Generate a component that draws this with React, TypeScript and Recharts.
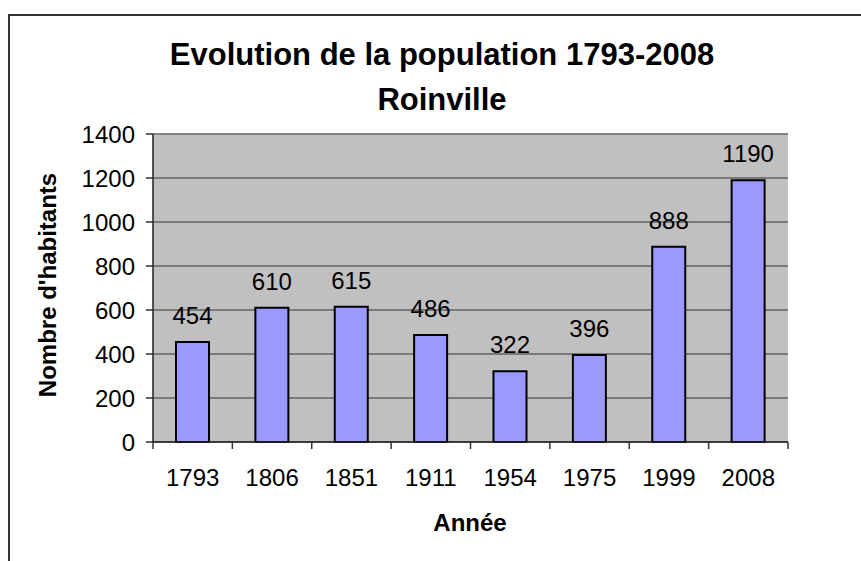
import { BarChart, Bar, XAxis, YAxis, CartesianGrid, LabelList, ReferenceLine } from 'recharts';

const years = ['1793', '1806', '1851', '1911', '1954', '1975', '1999', '2008'];
const population = [454, 610, 615, 486, 322, 396, 888, 1190];
const yTicks = [0, 200, 400, 600, 800, 1000, 1200, 1400];

const data = years.map((year, i) => ({ year, value: population[i] }));

const FONT = '"Liberation Sans", Arial, sans-serif';

function YearTick(props: any) {
  const { x, y, payload, index } = props;
  const half = payload?.offset ?? 39.7;
  const last = index === years.length - 1;
  return (
    <g>
      <line x1={x - half} y1={y} x2={x - half} y2={y + 7} stroke="#333" strokeWidth={1.5} />
      {last && <line x1={x + half} y1={y} x2={x + half} y2={y + 7} stroke="#333" strokeWidth={1.5} />}
      <text x={x} y={y + 44} textAnchor="middle" fontSize={24} fontFamily={FONT} fill="#000">
        {payload.value}
      </text>
    </g>
  );
}

export default function App() {
  return (
    <div style={{ position: 'absolute', left: 0, top: 0, width: 861, height: 561, background: '#fff', fontFamily: FONT, overflow: 'hidden' }}>
      <div style={{ position: 'absolute', left: 8, top: 14, width: 900, height: 600, borderTop: '2px solid #333', borderLeft: '2px solid #333' }} />
      <div style={{ position: 'absolute', left: 442, top: 32, transform: 'translateX(-50%)', textAlign: 'center', whiteSpace: 'nowrap', fontWeight: 'bold', fontSize: 31, lineHeight: '45px' }}>
        <div>Evolution de la population 1793-2008</div>
        <div>Roinville</div>
      </div>
      <div style={{ position: 'absolute', left: 48, top: 285, transform: 'translate(-50%, -50%) rotate(-90deg)', whiteSpace: 'nowrap', fontWeight: 'bold', fontSize: 24 }}>
        Nombre d'habitants
      </div>
      <div style={{ position: 'absolute', left: 470, top: 523, transform: 'translate(-50%, -50%)', fontWeight: 'bold', fontSize: 24 }}>
        Année
      </div>
      <div style={{ position: 'absolute', left: 0, top: 0 }}>
        <BarChart width={861} height={561} data={data} margin={{ top: 134, right: 73, left: 93, bottom: 79 }}>
          <CartesianGrid vertical={false} stroke="#333" fill="#C0C0C0" fillOpacity={1} />
          <XAxis
            dataKey="year"
            height={40}
            tickSize={0}
            tickMargin={0}
            tickLine={false}
            tick={<YearTick />}
            axisLine={{ stroke: '#222', strokeWidth: 1.5 }}
            interval={0}
          />
          <YAxis
            width={60}
            domain={[0, 1400]}
            ticks={yTicks}
            tickSize={7}
            tickMargin={11}
            tick={{ fontSize: 24, fontFamily: FONT, fill: '#000' }}
            tickLine={{ stroke: '#333', strokeWidth: 1.5 }}
            axisLine={{ stroke: '#222', strokeWidth: 1.5 }}
          />
          <YAxis yAxisId="r" orientation="right" width={0} tick={false} tickLine={false} axisLine={{ stroke: '#808080', strokeWidth: 1.5 }} />
          <ReferenceLine y={1400} stroke="#808080" strokeWidth={1.5} />
          <Bar dataKey="value" fill="#9999FF" stroke="#000" strokeWidth={2} barSize={33} isAnimationActive={false}>
            <LabelList dataKey="value" position="top" offset={18} fontSize={24} fontFamily={FONT} fill="#000" />
          </Bar>
        </BarChart>
      </div>
    </div>
  );
}
